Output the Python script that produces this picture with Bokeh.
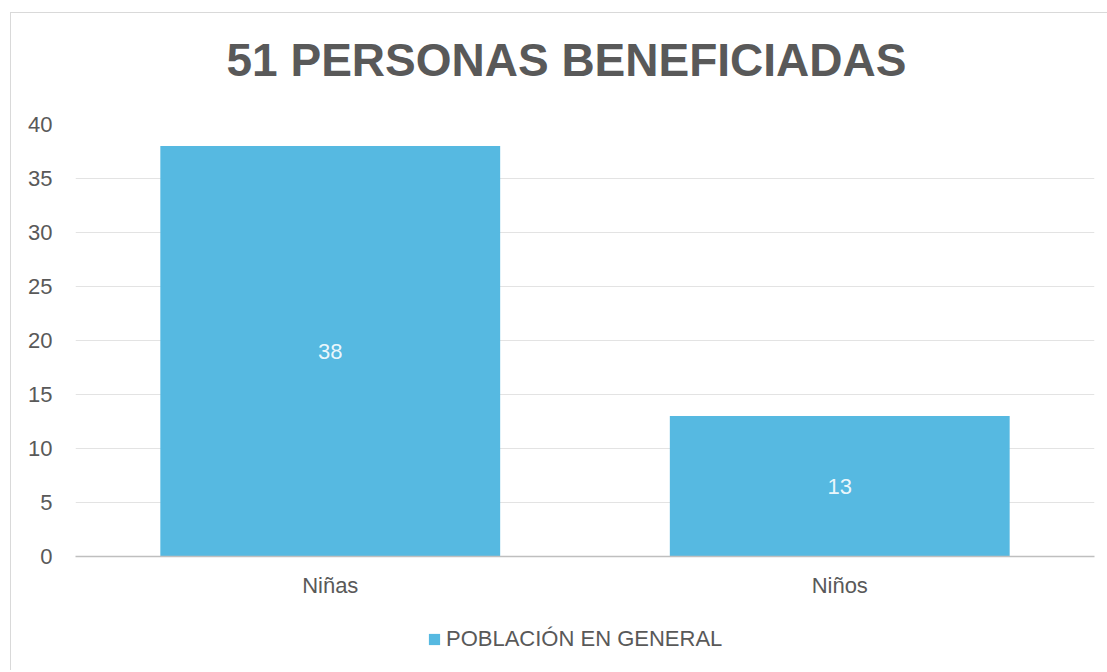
from bokeh.plotting import figure
from bokeh.layouts import column
from bokeh.models import (ColumnDataSource, FactorRange, Range1d, SingleIntervalTicker,
                          LabelSet, Legend, LegendItem, Title)
from bokeh.core.properties import value
from bokeh.embed import file_html
from bokeh.resources import INLINE

categories = ["Niñas", "Niños"]
values = [38, 13]
series_name = "POBLACIÓN EN GENERAL"
title_text = "51 PERSONAS BENEFICIADAS"

FONT = "Liberation Sans"
TXT = "#595959"
BAR = "#56b9e1"

src = ColumnDataSource(dict(cat=categories, val=values,
                            mid=[v / 2 for v in values],
                            lab=[str(v) for v in values]))


def blank_strip(height, top, bottom):
    f = figure(width=1096, height=height, x_range=FactorRange(*categories), y_range=Range1d(1000, 1001),
               output_backend="svg", toolbar_location=None,
               x_axis_location=None, y_axis_location=None,
               min_border_left=0, min_border_right=0, min_border_top=top, min_border_bottom=bottom)
    f.outline_line_color = None
    f.xgrid.grid_line_color = None
    f.ygrid.grid_line_color = None
    f.border_fill_color = "white"
    f.background_fill_color = "white"
    return f


# title strip
tf = blank_strip(73, 72, 0)
tf.title = Title(text=title_text, align="left", offset=151, standoff=0, vertical_align="bottom",
                 text_font=FONT, text_font_style="bold", text_font_size="46px", text_color=TXT)

# main chart
p = figure(width=1096, height=534, x_range=FactorRange(*categories), y_range=Range1d(0, 40),
           output_backend="svg", toolbar_location=None,
           min_border_left=64, min_border_right=13, min_border_top=38, min_border_bottom=64)
p.outline_line_color = None
p.background_fill_color = "white"
p.border_fill_color = "white"

r = p.vbar(x="cat", top="val", width=0.667, source=src, fill_color=BAR, line_color=None)

p.yaxis.ticker = SingleIntervalTicker(interval=5)
p.yaxis.axis_line_color = None
p.yaxis.major_tick_line_color = None
p.yaxis.minor_tick_line_color = None
p.yaxis.major_label_standoff = 17
p.yaxis.major_label_text_font = FONT
p.yaxis.major_label_text_font_size = "22px"
p.yaxis.major_label_text_color = TXT

p.xaxis.axis_line_color = "#bfbfbf"
p.xaxis.axis_line_width = 1.5
p.xaxis.major_tick_line_color = None
p.xaxis.minor_tick_line_color = None
p.xaxis.major_label_standoff = 10
p.xaxis.major_label_text_font = FONT
p.xaxis.major_label_text_font_size = "22px"
p.xaxis.major_label_text_color = TXT

p.xgrid.grid_line_color = None
p.ygrid.grid_line_color = "#e3e3e3"
p.ygrid.grid_line_width = 1

labels = LabelSet(x="cat", y="mid", text="lab", source=src, text_align="center",
                  text_baseline="middle", text_color="white", text_alpha=0.9,
                  text_font=value(FONT), text_font_size="22px")
p.add_layout(labels)

# legend strip (bars drawn outside its visible range, only the legend shows)
leg = blank_strip(50, 0, 0)
lr = leg.vbar(x="cat", top="val", width=0.667, source=src, fill_color=BAR, line_color=None)
legend = Legend(items=[LegendItem(label=series_name, renderers=[lr])], location=(352, 18),
                orientation="horizontal", border_line_color=None, background_fill_alpha=0,
                padding=0, margin=0, glyph_width=14, glyph_height=14, label_height=20,
                label_standoff=5, label_text_font=FONT, label_text_font_size="22px",
                label_text_color=TXT)
leg.add_layout(legend, "center")

layout = column(tf, p, leg, spacing=0, margin=(12, 0, 0, 10),
                styles={"border-left": "1px solid #d9d9d9", "border-top": "1px solid #d9d9d9"})

open("out.html", "w").write(file_html(layout, INLINE))
